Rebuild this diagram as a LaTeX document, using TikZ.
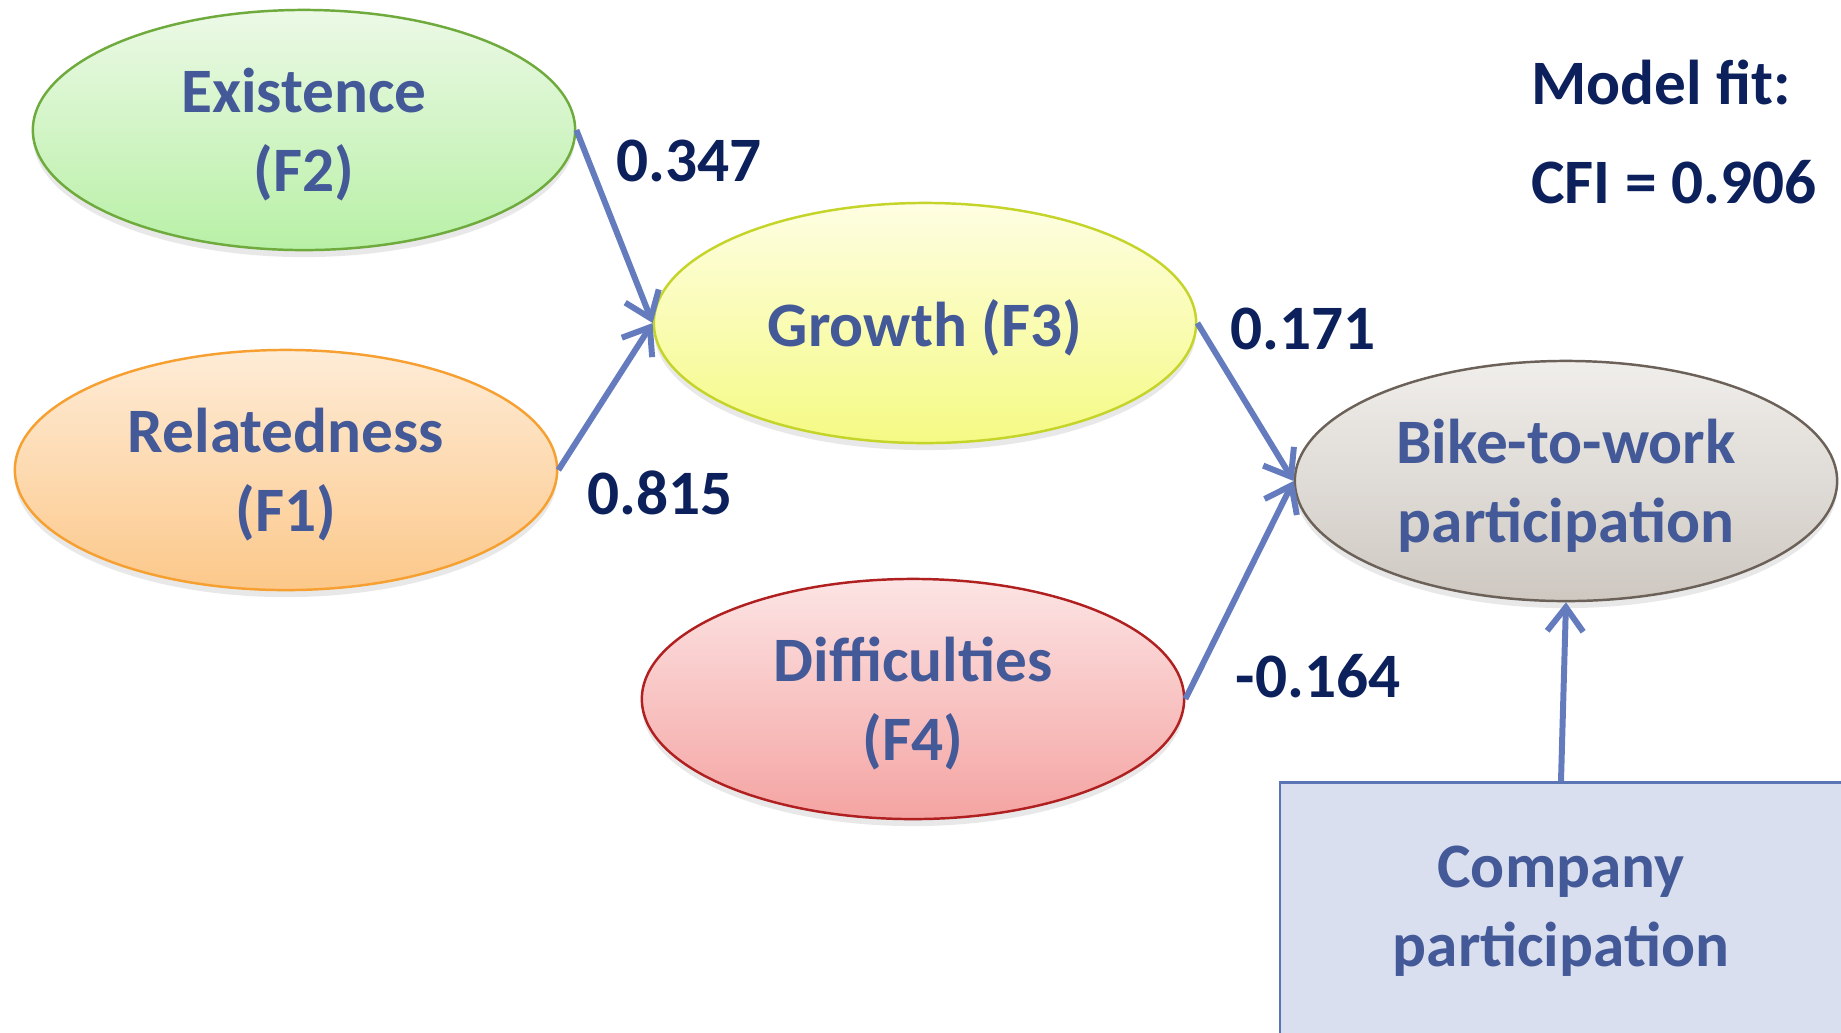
\documentclass[tikz,border=0pt]{standalone}
\usepackage{fontspec}
\setmainfont{Carlito}
\usetikzlibrary{arrows.meta,shapes.geometric,shadows}

\definecolor{labelblue}{RGB}{68,89,152}
\definecolor{coefblue}{RGB}{12,32,92}
\definecolor{linkblue}{RGB}{100,124,190}
\definecolor{exTop}{RGB}{236,249,230}
\definecolor{exBot}{RGB}{184,240,166}
\definecolor{exLine}{RGB}{110,170,60}
\definecolor{reTop}{RGB}{254,236,215}
\definecolor{reBot}{RGB}{252,200,138}
\definecolor{reLine}{RGB}{247,160,50}
\definecolor{grTop}{RGB}{254,254,226}
\definecolor{grBot}{RGB}{245,250,132}
\definecolor{grLine}{RGB}{196,212,40}
\definecolor{diTop}{RGB}{252,228,228}
\definecolor{diBot}{RGB}{244,164,162}
\definecolor{diLine}{RGB}{176,32,32}
\definecolor{bkTop}{RGB}{240,238,235}
\definecolor{bkBot}{RGB}{206,200,193}
\definecolor{bkLine}{RGB}{107,97,88}
\definecolor{coFill}{RGB}{217,223,238}
\definecolor{coLine}{RGB}{90,116,181}

\begin{document}
\begin{tikzpicture}[x=0.01cm, y=-0.01cm,
            every node/.style={font=\fontsize{18}{22.5}\selectfont\bfseries},
            factor/.style={draw, ellipse, line width=0.7pt, align=center, text=labelblue,
                text depth=0pt, minimum width=5.42cm, minimum height=2.4cm,
                drop shadow={shadow xshift=0pt, shadow yshift=-2pt, opacity=0.18}},
            coef/.style={text=coefblue},
            link/.style={draw=linkblue, line width=1.7pt, -{Straight Barb[length=2.4mm,width=3.6mm]}}]
        \useasboundingbox (0,0) rectangle (1841,1032);
        \node[factor, top color=exTop, bottom color=exBot, draw=exLine] (ex) at (304,130) {Existence\\(F2)};
        \node[factor, top color=reTop, bottom color=reBot, draw=reLine] (re) at (286,470) {Relatedness\\(F1)};
        \node[factor, top color=grTop, bottom color=grBot, draw=grLine] (gr) at (925,323) {Growth (F3)};
        \node[factor, top color=diTop, bottom color=diBot, draw=diLine] (di) at (913,699) {Difficulties\\(F4)};
        \node[factor, top color=bkTop, bottom color=bkBot, draw=bkLine] (bk) at (1566,481) {Bike-to-work\\participation};
        \node[draw=coLine, fill=coFill, line width=0.7pt, align=center, text=labelblue,
              minimum width=5.62cm, minimum height=2.57cm] (co) at (1561,911) {Company\\participation};

        \draw[link] (ex.east) -- (gr.west);
        \draw[link] (re.east) -- (gr.west);
        \draw[link] (gr.east) -- (bk.west);
        \draw[link] (di.east) -- (bk.west);
        \draw[link] (co.north) -- (bk.south);

        \node[coef] (c347) at (689,161) {0.347};
        \node[coef] (c815) at (660,493) {0.815};
        \node[coef] (c171) at (1303,329) {0.171};
        \node[coef] (c164) at (1318,676) {-0.164};
        \node[coef, anchor=west] (fit) at (1519,82) {Model fit:};
        \node[coef, anchor=west] (cfi) at (1519,182) {CFI = 0.906};
\end{tikzpicture}
\end{document}
